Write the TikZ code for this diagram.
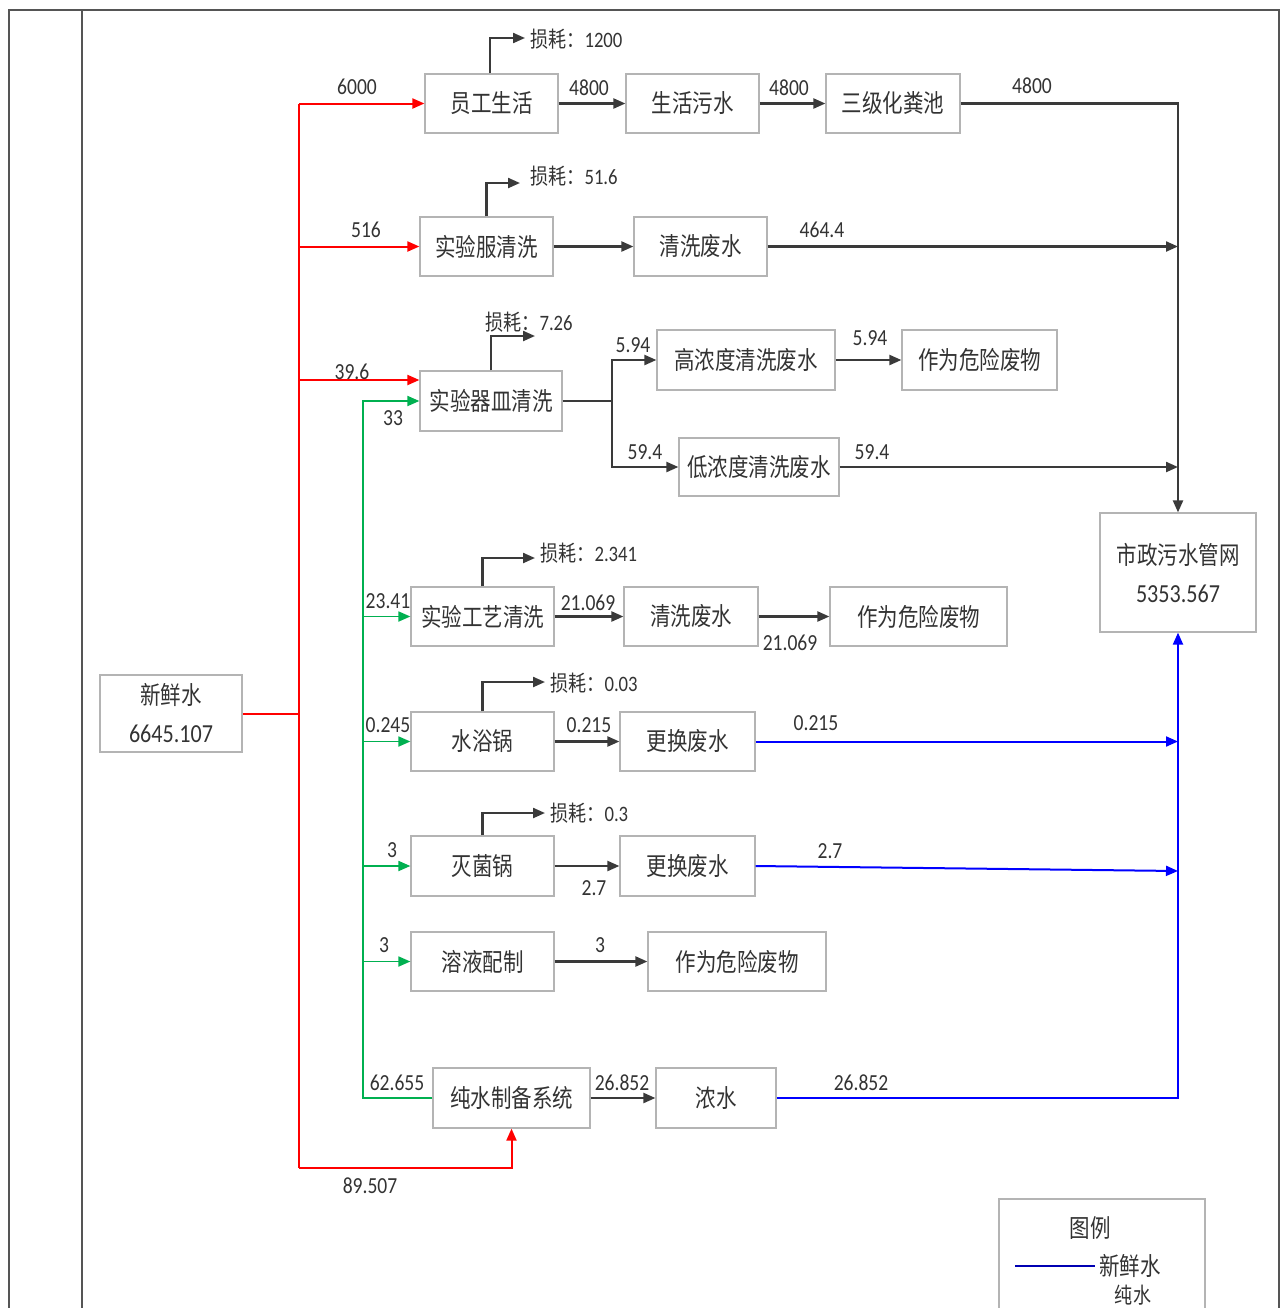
\documentclass[tikz,border=0pt]{standalone}
\usepackage{fontspec}
\setmainfont{Carlito}[FakeStretch=0.85]
\newfontfamily\cjk{Noto Sans CJK SC}[FakeStretch=0.82]
\usetikzlibrary{arrows.meta}
\definecolor{boxgray}{HTML}{B4B4B4}
\definecolor{linegray}{HTML}{3A3A3A}
\definecolor{txtgray}{HTML}{333333}
\definecolor{grn}{HTML}{00B050}
\definecolor{framegray}{HTML}{555555}
\begin{document}
\begin{tikzpicture}[x=0.5pt,y=-0.5pt,
  box/.style={draw=boxgray,line width=0.6pt,inner sep=0pt,align=center,text=txtgray,
    font=\cjk\fontsize{12.5}{19}\selectfont},
  lbl/.style={inner sep=0pt,text=txtgray,font=\fontsize{11.5}{13}\selectfont},
  closs/.style={inner sep=0pt,text=txtgray,font=\fontsize{11}{13}\selectfont},
  tip/.style={-{Triangle[length=6pt,width=5pt]}},
  arr/.style={tip,draw=linegray,line width=1.1pt},
  ln/.style={draw=linegray,line width=1.1pt},
  redl/.style={draw=red,line width=1pt},
  redarr/.style={redl,tip},
  greenl/.style={draw=grn,line width=0.9pt},
  greenarr/.style={greenl,tip},
  bluearr/.style={draw=blue,line width=1pt,tip},
  frame/.style={draw=framegray,line width=0.9pt}]
\useasboundingbox (0,0) rectangle (1285,1308);
% frame
\draw[frame] (9,1320) -- (9,10) -- (1279,10) -- (1279,1320);
\draw[frame] (82,10) -- (82,1320);

% boxes
\node[box,minimum width=71pt,minimum height=38.5pt] (xin) at (171,713.5) {新鲜水\\{\rmfamily\fontsize{13}{19}\selectfont 6645.107}};
\node[box,minimum width=66.5pt,minimum height=29.5pt] (yg) at (491.5,103.5) {员工生活};
\node[box,minimum width=66.5pt,minimum height=29.5pt] (sh) at (692.5,103.5) {生活污水};
\node[box,minimum width=67pt,minimum height=29.5pt] (sj) at (893,103.5) {三级化粪池};
\node[box,minimum width=66.5pt,minimum height=29.5pt] (syf) at (486.5,246.5) {实验服清洗};
\node[box,minimum width=66.5pt,minimum height=29.5pt] (qx1) at (700.5,246.5) {清洗废水};
\node[box,minimum width=71pt,minimum height=30pt] (qm) at (491,401) {实验器皿清洗};
\node[box,minimum width=89pt,minimum height=30pt] (gn) at (746,360) {高浓度清洗废水};
\node[box,minimum width=77.5pt,minimum height=30pt] (wx1) at (979.5,360) {作为危险废物};
\node[box,minimum width=80pt,minimum height=29pt] (dn) at (759,467) {低浓度清洗废水};
\node[box,minimum width=78pt,minimum height=59.5pt] (sz) at (1178,572.5) {市政污水管网\\{\rmfamily\fontsize{13}{19}\selectfont 5353.567}};
\node[box,minimum width=71.5pt,minimum height=29.5pt] (gy) at (482.5,616.5) {实验工艺清洗};
\node[box,minimum width=67pt,minimum height=29.5pt] (qx2) at (691,616.5) {清洗废水};
\node[box,minimum width=88.5pt,minimum height=29.5pt] (wx2) at (918.5,616.5) {作为危险废物};
\node[box,minimum width=71.5pt,minimum height=29.5pt] (sy) at (482.5,741.5) {水浴锅};
\node[box,minimum width=67.5pt,minimum height=29.5pt] (gh1) at (687.5,741.5) {更换废水};
\node[box,minimum width=71.5pt,minimum height=30pt] (mj) at (482.5,866) {灭菌锅};
\node[box,minimum width=67.5pt,minimum height=30pt] (gh2) at (687.5,866) {更换废水};
\node[box,minimum width=71.5pt,minimum height=29.5pt] (ry) at (482.5,961.5) {溶液配制};
\node[box,minimum width=89pt,minimum height=29.5pt] (wx3) at (737,961.5) {作为危险废物};
\node[box,minimum width=78.5pt,minimum height=30pt] (cs) at (511.5,1098) {纯水制备系统};
\node[box,minimum width=60pt,minimum height=30pt] (ns) at (716,1098) {浓水};

% red network
\coordinate (rmid) at (299,713.5);
\coordinate (rtop) at (299,103.5);
\coordinate (rbot) at (299,1168);
\coordinate (r396) at (299,380);
\draw[redl] (xin.east) -- (rmid);
\draw[redl] (rtop) -- (rbot);
\draw[redarr] (rtop) -- (yg.west);
\draw[redarr] (rtop |- syf.west) -- (syf.west);
\draw[redarr] (r396) -- (r396 -| qm.west);
\draw[redarr] (rbot) -| (cs.south);

% green network
\coordinate (gtop) at (363,401);
\coordinate (gbot) at (363,1098);
\draw[greenarr] (cs.west) -- (gbot) -- (gtop) -- (qm.west);
\draw[greenarr] (gtop |- gy.west) -- (gy.west);
\draw[greenarr] (gtop |- sy.west) -- (sy.west);
\draw[greenarr] (gtop |- mj.west) -- (mj.west);
\draw[greenarr] (gtop |- ry.west) -- (ry.west);

% black flows
\draw[arr] (yg) -- (sh);
\draw[arr] (sh) -- (sj);
\draw[arr] (sj.east) -| (sz.north);
\draw[arr] (syf) -- (qx1);
\draw[arr] (qx1.east) -- (qx1.east -| sz.north);
\coordinate (br) at (612,401);
\draw[ln] (qm.east) -- (br);
\draw[arr] (br) |- (gn.west);
\draw[arr] (br) |- (dn.west);
\draw[arr] (gn) -- (wx1);
\draw[arr] (dn.east) -- (dn.east -| sz.north);
\draw[arr] (gy) -- (qx2);
\draw[arr] (qx2) -- (wx2);
\draw[arr] (sy) -- (gh1);
\draw[arr] (mj) -- (gh2);
\draw[arr] (ry) -- (wx3);
\draw[arr] (cs) -- (ns);

% blue flows
\coordinate (bz2) at (1178,871);
\draw[bluearr] (gh1.east) -- (gh1.east -| sz.south);
\draw[bluearr] (gh2.east) -- (bz2);
\draw[bluearr] (ns.east) -| (sz.south);

% losses
\coordinate (tA) at (525,38);
\coordinate (tB) at (520,183);
\coordinate (tC) at (535,336);
\coordinate (tD) at (535,558);
\coordinate (tE) at (545,682);
\coordinate (tF) at (545,813);
\draw[arr] (yg.north -| 490,0) |- (tA);
\draw[arr] (syf.north) |- (tB);
\draw[arr] (qm.north) |- (tC);
\draw[arr] (gy.north) |- (tD);
\draw[arr] (sy.north) |- (tE);
\draw[arr] (mj.north) |- (tF);
\node[closs,anchor=west] (lA) at (530,39) {{\cjk 损耗：}1200};
\node[closs,anchor=west] (lB) at (530,176) {{\cjk 损耗：}51.6};
\node[closs,anchor=west] (lC) at (485,322) {{\cjk 损耗：}7.26};
\node[closs,anchor=west] (lD) at (540,553) {{\cjk 损耗：}2.341};
\node[closs,anchor=west] (lE) at (550,683) {{\cjk 损耗：}0.03};
\node[closs,anchor=west] (lF) at (550,813) {{\cjk 损耗：}0.3};

% flow labels
\node[lbl] (n1) at (357,87) {6000};
\node[lbl] (n2) at (589,88) {4800};
\node[lbl] (n3) at (789,88) {4800};
\node[lbl] (n4) at (1032,86) {4800};
\node[lbl] (n5) at (366,230) {516};
\node[lbl] (n6) at (822,230) {464.4};
\node[lbl] (n7) at (352,372) {39.6};
\node[lbl] (n8) at (393,418) {33};
\node[lbl] (n9) at (633,345) {5.94};
\node[lbl] (n10) at (870,338) {5.94};
\node[lbl] (n11) at (645,452) {59.4};
\node[lbl] (n12) at (872,452) {59.4};
\node[lbl] (n13) at (388,601) {23.41};
\node[lbl] (n14) at (588,603) {21.069};
\node[lbl] (n15) at (790,643) {21.069};
\node[lbl] (n16) at (388,725) {0.245};
\node[lbl] (n17) at (589,725) {0.215};
\node[lbl] (n18) at (816,723) {0.215};
\node[lbl] (n19) at (392,850) {3};
\node[lbl] (n20) at (594,888) {2.7};
\node[lbl] (n21) at (830,851) {2.7};
\node[lbl] (n22) at (384,945) {3};
\node[lbl] (n23) at (600,945) {3};
\node[lbl] (n24) at (397,1083) {62.655};
\node[lbl] (n25) at (622,1083) {26.852};
\node[lbl] (n26) at (861,1083) {26.852};
\node[lbl] (n27) at (370,1186) {89.507};

% legend
\draw[draw=boxgray,line width=0.6pt] (999,1320) -- (999,1199) -- (1205,1199) -- (1205,1320);
\node[inner sep=0pt,text=txtgray,font=\cjk\fontsize{12.5}{15}\selectfont] (lg) at (1090,1228) {图例};
\coordinate (lgA) at (1015,1266);
\coordinate (lgB) at (1095,1266);
\draw[draw=blue!70!black,line width=0.9pt] (lgA) -- (lgB);
\node[inner sep=0pt,text=txtgray,font=\cjk\fontsize{12.5}{15}\selectfont,anchor=west] (lg1) at (1099,1266) {新鲜水};
\node[inner sep=0pt,text=txtgray,font=\cjk\fontsize{11}{13}\selectfont] (lg2) at (1133,1295) {纯水};
\end{tikzpicture}
\end{document}
